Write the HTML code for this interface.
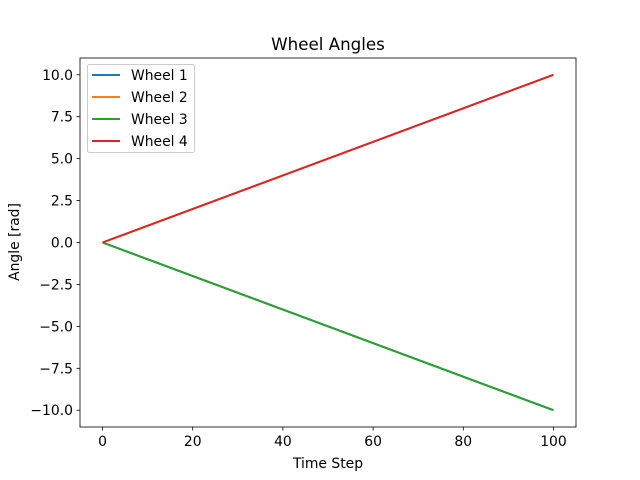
<!DOCTYPE html>
<html><head><meta charset="utf-8"><style>
body{margin:0;background:#fff;}
svg{display:block;font-family:"DejaVu Sans","Liberation Sans",sans-serif;}
</style></head><body>
<svg id="chart" width="640" height="480" xmlns="http://www.w3.org/2000/svg">
<rect width="640" height="480" fill="#fff"/>
<text x="328" y="50" font-size="16.7" text-anchor="middle">Wheel Angles</text>
<g id="plot"></g>
<rect x="80" y="58" width="496" height="369" fill="none" stroke="#000" stroke-width="0.8"/>
<text x="328" y="468" font-size="13.9" text-anchor="middle">Time Step</text>
<text transform="translate(19,242) rotate(-90)" font-size="13.9" text-anchor="middle">Angle [rad]</text>
<g id="legend"></g>
</svg>
<script>
const steps=[0,100];
const wheel1=[0,-10];
const wheel2=[0,10];
const wheel3=[0,-10];
const wheel4=[0,10];
const seriesNames=["Wheel 1","Wheel 2","Wheel 3","Wheel 4"];
const xTicks=[0,20,40,60,80,100];
const yTicks=[-10,-7.5,-5,-2.5,0,2.5,5,7.5,10];
const colors=["#1f77b4","#ff7f0e","#2ca02c","#d62728"];
const NS="http://www.w3.org/2000/svg";
const X=v=>80+(v+5)/110*496;
const Y=v=>58+(11-v)/22*369;
const plot=document.getElementById('plot');
function mk(t,a,p){const e=document.createElementNS(NS,t);for(const k in a)e.setAttribute(k,a[k]);(p||plot).appendChild(e);return e;}
xTicks.forEach(v=>{
 const l=mk('line',{x1:X(v),x2:X(v),y1:427,y2:430.5,stroke:'#000','stroke-width':0.8});
 
 
 const t=mk('text',{x:X(v),y:446,'font-size':13.9,'text-anchor':'middle'});t.textContent=v;
 
 
});
yTicks.forEach(v=>{
 const l=mk('line',{x1:76.5,x2:80,y1:Y(v),y2:Y(v),stroke:'#000','stroke-width':0.8});
 
 
 const t=mk('text',{x:73,y:Y(v)+5,'font-size':13.9,'text-anchor':'end'});t.textContent=v.toFixed(1).replace('-','\u2212');
 
 
});
[wheel1,wheel2,wheel3,wheel4].forEach((s,i)=>{
 const p=mk('polyline',{points:steps.map((t,j)=>X(t)+','+Y(s[j])).join(' '),fill:'none',stroke:colors[i],'stroke-width':2});
 
 
});
const lg=document.getElementById('legend');
mk('rect',{x:87.5,y:64.5,width:107,height:88,rx:2,fill:'#fff','fill-opacity':0.8,stroke:'#ccc'},lg);
seriesNames.forEach((n,i)=>{
 const y=75+i*22;
 const l=mk('line',{x1:92,x2:120,y1:y,y2:y,stroke:colors[i],'stroke-width':2},lg);
 
 
 const t=mk('text',{x:131,y:y+5,'font-size':13.9},lg);t.textContent=n;
 
 
});
</script>
</body></html>
